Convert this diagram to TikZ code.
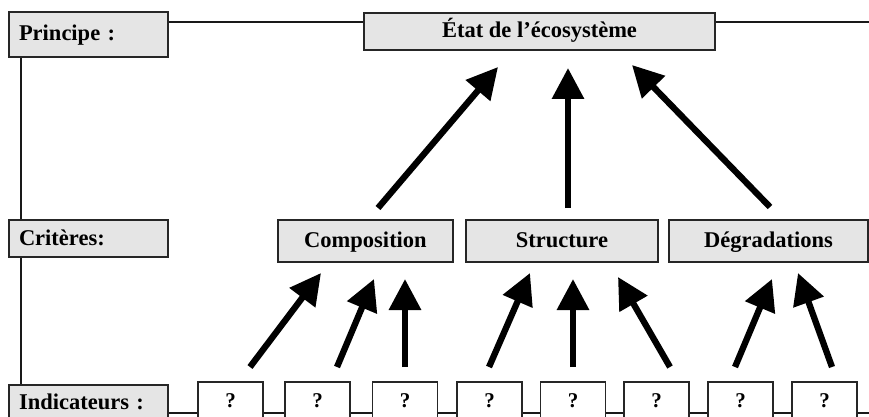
\documentclass[tikz,border=0pt]{standalone}
\usepackage{fontspec}
\setmainfont{Liberation Serif}
\usetikzlibrary{arrows.meta}
\begin{document}
\begin{tikzpicture}[x=1pt,y=-1pt,
  hdr/.style={draw=black!85, line width=1.3pt, fill=gray!20, inner sep=0pt,
    text height=16pt, text depth=3pt,
    font=\bfseries\fontsize{22.5}{26}\selectfont},
  side/.style={hdr, minimum width=159pt, text width=139pt, align=left},
  qbox/.style={draw=black!85, line width=1.3pt, fill=white, inner sep=0pt,
    minimum width=65pt, minimum height=38pt, font=\bfseries\fontsize{21}{24}\selectfont},
  link/.style={draw=black!90, line width=1.2pt},
  big/.style={line width=6.3pt, -{Triangle[length=31pt,width=31pt]}}]
\useasboundingbox (0,0) rectangle (869,417);
\clip (0,0) rectangle (869,417);
% background connecting lines
\coordinate (r1) at (869,22);
\coordinate (r3) at (869,413);
\node[side, minimum height=45pt] (princ) at (88.5,34.5) {Principe :};
\node[side, minimum height=37pt] (crit) at (88.5,238.5) {Critères:};
\node[side, minimum height=36pt] (ind) at (88.5,403) {Indicateurs :};
\draw[link] ([xshift=-67.5pt]princ.south) -- ([xshift=-67.5pt]ind.north);
\draw[link] (princ.east |- r1) -- (r1);
\draw[link] (ind.east |- r3) -- (r3);
% redraw side boxes over lines
\node[side, minimum height=45pt] at (princ) {Principe :};
\node[side, minimum height=37pt] at (crit) {Critères:};
\node[side, minimum height=36pt] at (ind) {Indicateurs :};
% top and criteria boxes
\node[hdr, minimum width=351pt, minimum height=37pt] (etat) at (539.5,31.5) {État de l’écosystème};
\node[hdr, minimum width=175pt, minimum height=42pt] (comp) at (365.5,241) {Composition};
\node[hdr, minimum width=192pt, minimum height=42pt] (struc) at (562,241) {Structure};
\node[hdr, minimum width=199pt, minimum height=42pt] (degr) at (768.5,241) {Dégradations};
% indicator boxes
\node[qbox] (q1) at (230.5,401) {?};
\node[qbox] (q2) at (317.5,401) {?};
\node[qbox] (q3) at (405,401) {?};
\node[qbox] (q4) at (489.5,401) {?};
\node[qbox] (q5) at (573,401) {?};
\node[qbox] (q6) at (656.5,401) {?};
\node[qbox] (q7) at (740.5,401) {?};
\node[qbox] (q8) at (824.5,401) {?};
% arrow end points
\coordinate (a1s) at (378,208); \coordinate (a1e) at (498,67);
\coordinate (a2s) at (568,208); \coordinate (a2e) at (568,68);
\coordinate (a3s) at (770,207); \coordinate (a3e) at (632,65);
\coordinate (b1s) at (250,367); \coordinate (b1e) at (321,273);
\coordinate (b2s) at (337,367); \coordinate (b2e) at (374,279);
\coordinate (b3s) at (405,367); \coordinate (b3e) at (405,279);
\coordinate (b4s) at (489,367); \coordinate (b4e) at (530,273);
\coordinate (b5s) at (573,367); \coordinate (b5e) at (573,279);
\coordinate (b6s) at (670,367); \coordinate (b6e) at (618,277);
\coordinate (b7s) at (735,367); \coordinate (b7e) at (772,279);
\coordinate (b8s) at (832,367); \coordinate (b8e) at (798,273);
\foreach \n in {a1,a2,a3,b1,b2,b3,b4,b5,b6,b7,b8}
  \draw[big] (\n s) -- (\n e);
\end{tikzpicture}
\end{document}
